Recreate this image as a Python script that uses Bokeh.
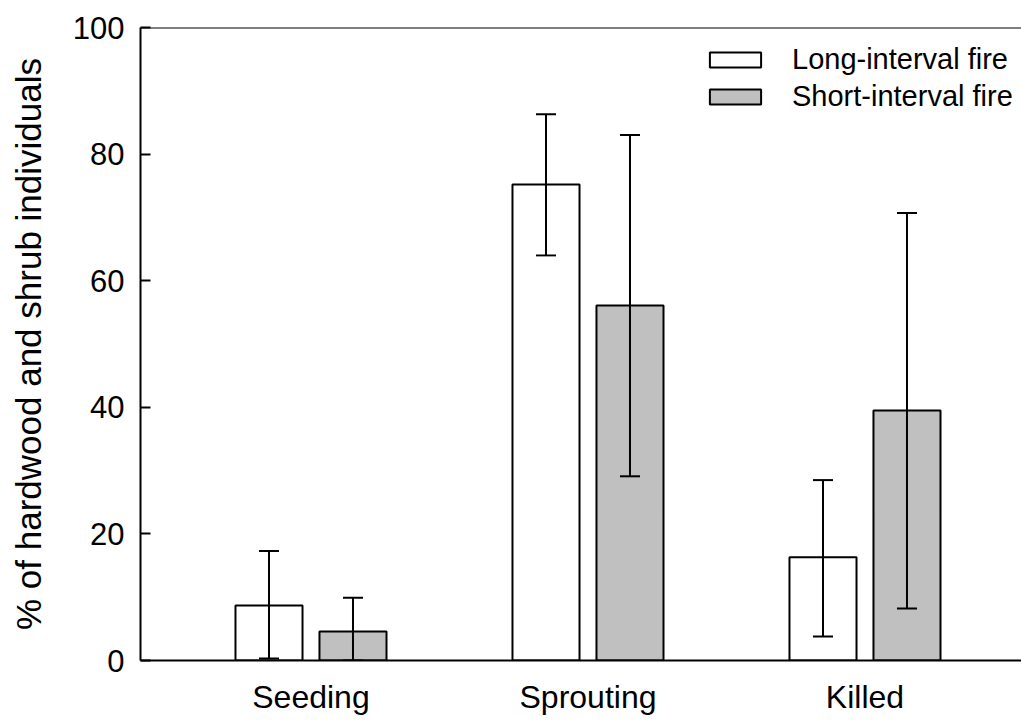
from bokeh.plotting import figure
from bokeh.models import (ColumnDataSource, Whisker, TeeHead, FixedTicker, Span,
                          Legend, LegendItem)
from bokeh.embed import file_html
from bokeh.resources import INLINE

categories = ["Seeding", "Sprouting", "Killed"]
long_mean = [8.7, 75.2, 16.3]
long_upper = [17.3, 86.3, 28.5]
long_lower = [0.3, 64.0, 3.8]
short_mean = [4.6, 56.1, 39.5]
short_upper = [9.9, 83.0, 70.7]
short_lower = [0.0, 29.1, 8.2]

pos = [1, 2, 3]
off = 0.1516
bw = 0.242
FONT = "Liberation Sans"

p = figure(width=1021, height=721, output_backend="svg", toolbar_location=None,
           x_range=(0.3845, 3.565), y_range=(0, 100),
           min_border_left=140, min_border_right=0, min_border_top=27,
           min_border_bottom=61)
p.outline_line_color = None
p.grid.grid_line_color = None
p.background_fill_color = "white"
p.border_fill_color = "white"

src_l = ColumnDataSource(dict(x=[v - off for v in pos], top=long_mean,
                              up=long_upper, lo=long_lower))
src_s = ColumnDataSource(dict(x=[v + off for v in pos], top=short_mean,
                              up=short_upper, lo=short_lower))

r1 = p.vbar(x="x", top="top", bottom=0, width=bw, source=src_l,
            fill_color="white", line_color="black", line_width=2)
r2 = p.vbar(x="x", top="top", bottom=0, width=bw, source=src_s,
            fill_color="#c0c0c0", line_color="black", line_width=2)

for src in (src_l, src_s):
    w = Whisker(base="x", upper="up", lower="lo", source=src, line_width=2,
                line_color="black", level="overlay",
                upper_head=TeeHead(size=20, line_width=2, line_color="black"),
                lower_head=TeeHead(size=20, line_width=2, line_color="black"))
    p.add_layout(w)

p.add_layout(Span(location=100, dimension="width", line_color="black", line_width=2))

p.xaxis.ticker = FixedTicker(ticks=pos)
p.xaxis.major_label_overrides = {i: c for i, c in zip(pos, categories)}
p.xaxis.major_tick_line_color = None
p.xaxis.minor_tick_line_color = None
p.xaxis.axis_line_width = 2
p.xaxis.major_label_text_font = FONT
p.xaxis.major_label_text_font_size = "32px"
p.xaxis.major_label_text_color = "black"
p.xaxis.major_label_standoff = 12

p.yaxis.ticker = FixedTicker(ticks=[0, 20, 40, 60, 80, 100])
p.yaxis.axis_line_width = 2
p.yaxis.major_tick_line_width = 2
p.yaxis.major_tick_in = 10
p.yaxis.major_tick_out = 0
p.yaxis.minor_tick_line_color = None
p.yaxis.major_label_text_font = FONT
p.yaxis.major_label_text_font_size = "31px"
p.yaxis.major_label_text_color = "black"
p.yaxis.major_label_standoff = 16
p.yaxis.axis_label = "% of hardwood and shrub individuals"
p.yaxis.axis_label_text_font = FONT
p.yaxis.axis_label_text_font_size = "35px"
p.yaxis.axis_label_text_font_style = "normal"
p.yaxis.axis_label_text_color = "black"
p.yaxis.axis_label_standoff = 22

legend = Legend(items=[LegendItem(label="Long-interval fire", renderers=[r1]),
                       LegendItem(label="Short-interval fire", renderers=[r2])],
                location=(563, 547), glyph_width=64, glyph_height=19,
                label_text_font=FONT, label_text_font_size="29px",
                label_text_color="black",
                label_standoff=25, spacing=4, padding=0, margin=0,
                border_line_color=None, background_fill_alpha=0)
p.add_layout(legend)

open("out.html", "w").write(file_html(p, INLINE))
